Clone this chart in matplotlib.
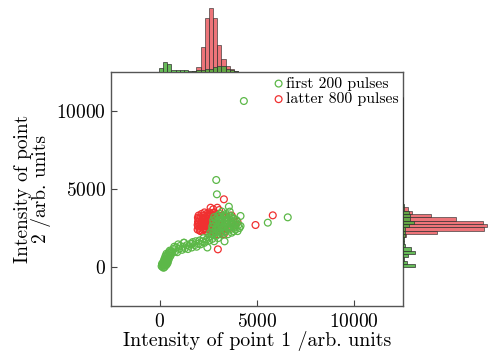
import matplotlib
matplotlib.use('Agg')
import matplotlib.pyplot as plt
import numpy as np

plt.rcParams['font.family'] = 'cmr10'
plt.rcParams['mathtext.fontset'] = 'cm'
plt.rcParams['axes.formatter.use_mathtext'] = True

# ---------------- data ----------------
green_pts = [
    # cluster near origin
    (100, 50), (150, 0), (200, 100), (250, 150), (120, 200), (180, 300), (230, 250), (300, 200),
    (280, 400), (350, 350), (200, -50), (320, 500), (400, 450), (380, 650), (450, 600), (300, 700),
    (420, 800), (500, 750), (480, 950), (550, 900), (350, 850), (520, 1050), (600, 1000), (260, 550),
    (160, 150), (230, 450), (420, 300), (330, 120), (470, 500), (550, 700), (250, 0), (380, 200),
    # band
    (650, 900), (700, 1150), (800, 1000), (850, 1250), (900, 950), (1000, 1150), (1050, 1350),
    (1150, 1100), (1200, 1300), (1250, 1550), (1300, 1200), (1400, 1400), (1450, 1150), (1500, 1350),
    (1600, 1500), (1650, 1250), (1700, 1600), (1800, 1400), (1850, 1650), (1900, 1300), (2000, 1500),
    (2050, 1700), (2100, 1450), (2200, 1650), (2250, 1850), (2300, 1550), (2400, 1750), (2450, 1250),
    (2500, 1900), (2550, 1700), (2600, 1950), (2700, 1800), (2800, 1650), (2900, 2000), (3000, 1850),
    (3333, 1645), (1675, 1496), (1248, 1560), (750, 1300), (950, 1450),
    # main blob
    (2700, 2100), (3100, 2100), (3500, 2100),
    (2600, 2200), (2900, 2200), (3300, 2200), (3700, 2200),
    (2800, 2300), (3100, 2300), (3400, 2300), (3800, 2300), (4000, 2300),
    (2700, 2400), (3000, 2400), (3300, 2400), (3600, 2400), (3900, 2400),
    (2900, 2500), (3200, 2500), (3500, 2500), (3800, 2500), (4100, 2500),
    (2700, 2600), (3000, 2600), (3300, 2600), (3600, 2600), (3900, 2600),
    (2850, 2700), (3150, 2700), (3450, 2700), (3750, 2700), (4050, 2700),
    (2750, 2800), (3050, 2800), (3350, 2800), (3650, 2800), (3950, 2800),
    (2900, 2900), (3200, 2900), (3500, 2900), (3800, 2900),
    (2750, 3000), (3050, 3000), (3350, 3000), (3650, 3000), (3950, 3000),
    (2900, 3100), (3200, 3100), (3500, 3100), (3800, 3100),
    (2800, 3200), (3100, 3200), (3400, 3200), (3700, 3200),
    (3000, 3300), (3300, 3300), (3600, 3300),
    (3100, 3400), (3400, 3400), (3200, 3550), (3600, 3550),
    # outliers
    (4325, 10640), (2906, 5577), (2940, 4660), (3555, 3867), (6580, 3184), (5555, 2842),
    (4154, 3270), (4154, 2628),
]

red_pts = [
    (2100, 2300), (2400, 2300), (2700, 2300),
    (1950, 2400), (2250, 2400), (2550, 2400), (2850, 2400),
    (2050, 2500), (2350, 2500), (2650, 2500), (2950, 2500),
    (1980, 2600), (2200, 2600), (2450, 2600), (2750, 2600),
    (1950, 2700), (2100, 2700), (2300, 2700), (2550, 2700), (2850, 2700),
    (2000, 2800), (2250, 2800), (2500, 2800), (2700, 2800), (2950, 2800),
    (1970, 2900), (2150, 2900), (2400, 2900), (2600, 2900), (2850, 2900),
    (2050, 3000), (2300, 3000), (2500, 3000), (2750, 3000), (3000, 3000),
    (2000, 3100), (2200, 3100), (2450, 3100), (2650, 3100), (2900, 3100),
    (2100, 3200), (2350, 3200), (2550, 3200), (2800, 3200),
    (2000, 3300), (2250, 3300), (2500, 3300), (2750, 3300),
    (2150, 3400), (2400, 3400), (2650, 3400), (2900, 3400),
    (2300, 3500), (2550, 3500), (2800, 3500),
    (2050, 2350), (2350, 2450), (2600, 2550), (2150, 2850), (2450, 2950), (2700, 3150),
    (2250, 3050), (2500, 3350), (2350, 2750), (2600, 3250), (2800, 2600), (2900, 3300),
    (2150, 2550), (2400, 2650), (2700, 2450),
    (3100, 2900), (3300, 2600), (3500, 3000), (3700, 2800), (3200, 3300), (3400, 2400),
    (3800, 3100), (3600, 2500), (3900, 2700), (3150, 2300), (3450, 3200), (4000, 2900),
    (3300, 2100), (2800, 2200), (2500, 2150), (3000, 2100), (3700, 3300),
    (2615, 3800), (2960, 3800), (3300, 4340), (3050, 3650), (2750, 3700),
    (5810, 3312), (4923, 2692), (2990, 1132), (1965, 3160),
]

# histogram of intensity 1 (top), bins start -40, width 214
x_hist_start, x_hist_width = -40, 214
red_x_counts = [0, 0, 0, 0, 0, 0, 0, 0, 2, 17, 79, 170, 202, 170, 85, 40, 20, 10, 3,
                0, 0, 0, 0, 1, 0, 0, 0, 1, 0, 0, 0]
green_x_counts = [12, 30, 25, 6, 5, 6, 6, 3, 3, 5, 5, 8, 10, 15, 20, 19, 9, 6, 3,
                  1, 1, 0, 0, 0, 0, 0, 1, 0, 0, 0, 1]

# histogram of intensity 2 (right), bins start -30, width 214
y_hist_start, y_hist_width = -30, 214
red_y_counts = [0] * 51
for i, c in zip([9, 10, 11, 12, 13, 14, 15, 16, 17, 18, 20],
                [6, 72, 172, 178, 170, 112, 59, 19, 10, 1, 1]):
    red_y_counts[i] = c
green_y_counts = [25, 9, 2, 11, 25, 16, 5, 3, 3, 5, 5, 5, 13, 23, 15, 15, 13, 2, 2] + [0] * 32
green_y_counts[23] = 1
green_y_counts[26] = 1
green_y_counts[49] = 1

xticks = [0, 5000, 10000]
yticks = [0, 5000, 10000]

# ---------------- plot ----------------
GREEN = '#5cb848'
RED = '#f03030'
HGREEN = '#4caf3c'
HRED = '#e8454c'

fig = plt.figure(figsize=(4.99, 3.56), dpi=100)
L, B, W, H = 111 / 499, 50 / 356, 292 / 499, 234 / 356
ax = fig.add_axes([L, B, W, H])
axt = fig.add_axes([L, B + H, W, 1 - B - H])
axr = fig.add_axes([L + W, B, 1 - L - W, H])

gx, gy = zip(*green_pts)
rx, ry = zip(*red_pts)
hr = ax.scatter(rx, ry, s=24, facecolors='none', edgecolors=RED, linewidths=0.9)
hg = ax.scatter(gx, gy, s=24, facecolors='none', edgecolors=GREEN, linewidths=0.9)

ax.set_xlim(-2500, 12500)
ax.set_ylim(-2500, 12500)
ax.set_xticks(xticks)
ax.set_yticks(yticks)
ax.tick_params(direction='in', length=4, width=0.8, color='#444444', labelsize=14)
ax.tick_params(axis='x', pad=5)
for s in ax.spines.values():
    s.set_color('#555555')
    s.set_linewidth(1.0)
ax.set_xlabel('Intensity of point 1 /arb. units', fontsize=14.3, labelpad=0)
ax.set_ylabel('Intensity of point\n2 /arb. units', fontsize=14, labelpad=4, linespacing=0.9)

leg = ax.legend([hg, hr], ['first 200 pulses', 'latter 800 pulses'], loc='upper right',
                frameon=False, fontsize=11.3, handletextpad=0.05, borderaxespad=0.1,
                labelspacing=0.1, handlelength=0.8, borderpad=0.2)

xl = [x_hist_start + i * x_hist_width for i in range(len(red_x_counts))]
axt.bar(xl, red_x_counts, width=x_hist_width, align='edge', color=HRED, alpha=0.75,
        edgecolor='#333333', linewidth=0.6)
axt.bar(xl, green_x_counts, width=x_hist_width, align='edge', color=HGREEN, alpha=0.85,
        edgecolor='#333333', linewidth=0.6)
axt.set_xlim(-2500, 12500)
axt.set_ylim(0, 227)
axt.axis('off')

yl = [y_hist_start + i * y_hist_width for i in range(len(red_y_counts))]
axr.barh(yl, red_y_counts, height=y_hist_width, align='edge', color=HRED, alpha=0.75,
         edgecolor='#333333', linewidth=0.6)
axr.barh(yl, green_y_counts, height=y_hist_width, align='edge', color=HGREEN, alpha=0.85,
         edgecolor='#333333', linewidth=0.6)
axr.set_ylim(-2500, 12500)
axr.set_xlim(0, 203)
axr.axis('off')

fig.savefig('out.png', dpi=100)
